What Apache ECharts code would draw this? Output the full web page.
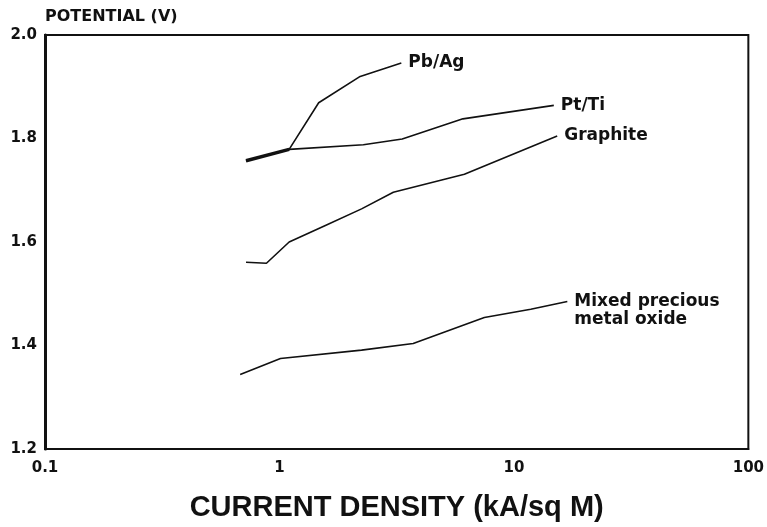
<!DOCTYPE html>
<html>
<head>
<meta charset="utf-8">
<script src="https://cdn.jsdelivr.net/npm/echarts@6/dist/echarts.min.js"></script>
<style>html,body{margin:0;padding:0;background:#fff}#c{width:767px;height:527px}</style>
</head>
<body>
<div id="c"></div>
<script>
// Data (x: current density kA/sq M, y: potential V)
const xTickLabels = ['0.1', '1', '10', '100'];
const yTickLabels = ['1.2', '1.4', '1.6', '1.8', '2.0'];
const pbAg = [[0.72, 1.757], [1.10, 1.779], [1.47, 1.869], [2.21, 1.920], [3.31, 1.946]];
const ptTi = [[0.72, 1.757], [1.10, 1.779], [2.28, 1.788], [3.34, 1.799], [6.06, 1.838], [14.8, 1.864]];
const graphite = [[0.72, 1.561], [0.88, 1.559], [1.10, 1.600], [1.57, 1.632], [2.24, 1.664], [3.06, 1.696], [6.15, 1.731], [15.3, 1.805]];
const mixedOxide = [[0.68, 1.344], [1.01, 1.375], [2.24, 1.391], [3.72, 1.404], [7.48, 1.454], [11.8, 1.470], [16.9, 1.485]];
const seriesNames = ['Pb/Ag', 'Pt/Ti', 'Graphite', 'Mixed precious\nmetal oxide'];

const FONT = '"DejaVu Sans", "Liberation Sans", Arial, sans-serif';
const TITLE_FONT = '"Liberation Sans", Arial, Helvetica, sans-serif';
const INK = '#111';

function lineSeries(name, data, label) {
  return {
    name: name,
    type: 'line',
    data: data,
    symbol: 'none',
    smooth: false,
    lineStyle: { color: INK, width: 1.6 },
    endLabel: Object.assign({
      show: true,
      formatter: name,
      color: INK,
      fontFamily: FONT,
      fontWeight: 'bold',
      fontSize: 17,
      lineHeight: 18,
      distance: 7
    }, label || {}),
    z: 3
  };
}

const chart = echarts.init(document.getElementById('c'), null, { renderer: 'canvas' });
chart.setOption({
  animation: false,
  backgroundColor: '#fff',
  grid: { left: 45, right: 15, top: 35, bottom: 75, show: true, borderColor: INK, borderWidth: 2, backgroundColor: 'transparent' },
  xAxis: {
    type: 'log',
    logBase: 10,
    min: 0.1,
    max: 100,
    name: 'CURRENT DENSITY (kA/sq M)',
    nameLocation: 'middle',
    nameGap: 44,
    nameTextStyle: { color: INK, fontFamily: TITLE_FONT, fontWeight: 'bold', fontSize: 29 },
    axisLine: { show: true, lineStyle: { color: INK, width: 2 } },
    axisTick: { show: false },
    splitLine: { show: false },
    minorTick: { show: false },
    axisLabel: {
      color: INK, fontFamily: FONT, fontWeight: 'bold', fontSize: 15, margin: 12,
      formatter: function (v) {
        const i = Math.round(Math.log10(v)) + 1;
        return xTickLabels[i] !== undefined ? xTickLabels[i] : '';
      }
    }
  },
  yAxis: {
    type: 'value',
    min: 1.2,
    max: 2.0,
    interval: 0.2,
    name: 'POTENTIAL (V)',
    nameLocation: 'end',
    nameGap: 10,
    nameTextStyle: { color: INK, fontFamily: FONT, fontWeight: 'bold', fontSize: 16, align: 'left' },
    axisLine: { show: true, lineStyle: { color: INK, width: 3 } },
    axisTick: { show: false },
    splitLine: { show: false },
    axisLabel: {
      color: INK, fontFamily: FONT, fontWeight: 'bold', fontSize: 15, margin: 8,
      formatter: function (v) {
        const i = Math.round((v - 1.2) / 0.2);
        return yTickLabels[i] !== undefined ? yTickLabels[i] : '';
      }
    }
  },
  series: [
    lineSeries(seriesNames[0], pbAg),
    lineSeries(seriesNames[1], ptTi),
    lineSeries(seriesNames[2], graphite),
    lineSeries(seriesNames[3], mixedOxide, { verticalAlign: 'top', offset: [0, -9] }),
    {
      name: 'shared',
      type: 'line',
      data: pbAg.slice(0, 2),
      symbol: 'none',
      lineStyle: { color: INK, width: 3.4 },
      z: 4,
      silent: true
    }
  ]
});
</script>
</body>
</html>
